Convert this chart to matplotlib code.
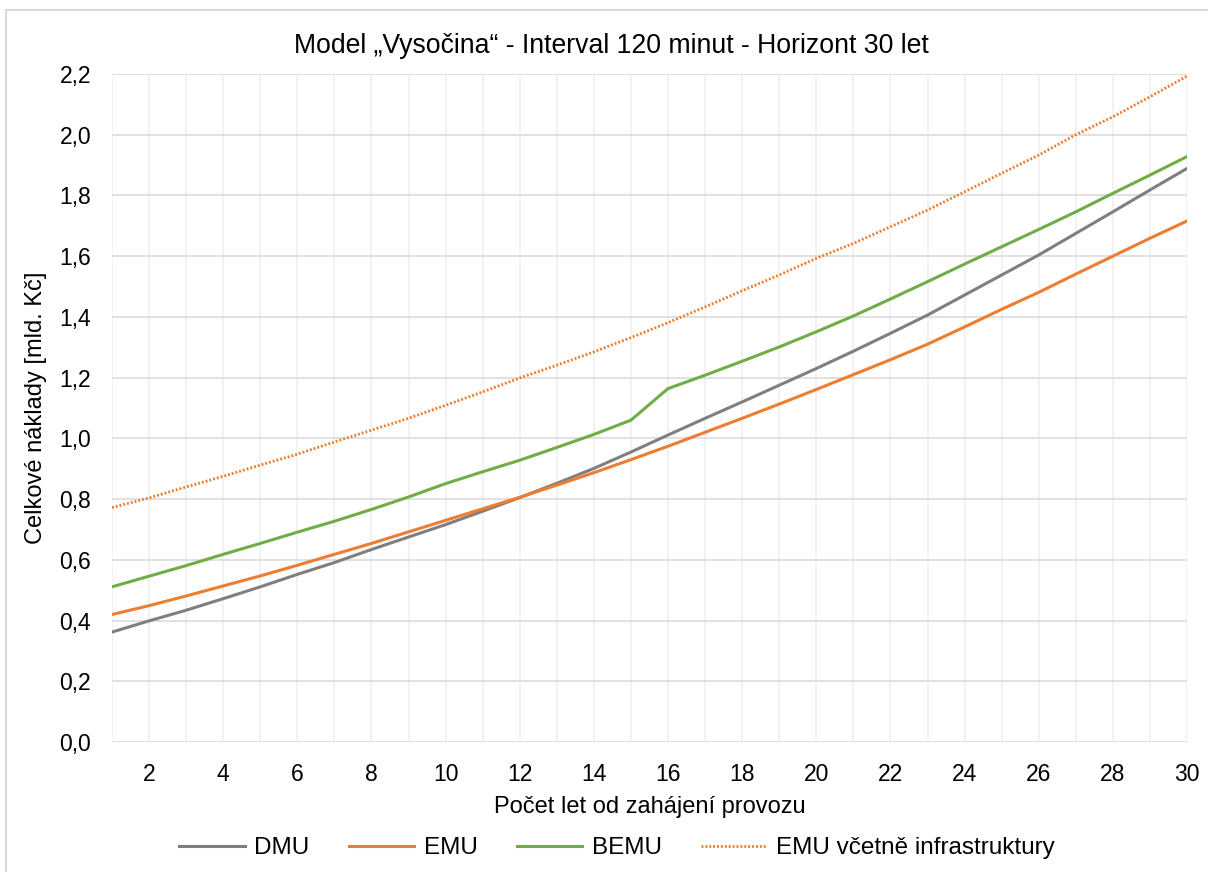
import matplotlib
matplotlib.use("Agg")
import matplotlib.pyplot as plt
from matplotlib.patches import Rectangle
from matplotlib.ticker import FuncFormatter

plt.rcParams["font.family"] = ["Liberation Sans", "DejaVu Sans"]

years = list(range(1, 31))
dmu = [0.362, 0.399, 0.434, 0.472, 0.511, 0.552, 0.591, 0.634, 0.675, 0.716,
       0.760, 0.805, 0.852, 0.901, 0.955, 1.011, 1.066, 1.120, 1.175, 1.230,
       1.287, 1.346, 1.406, 1.472, 1.538, 1.604, 1.675, 1.746, 1.818, 1.889]
emu = [0.420, 0.449, 0.481, 0.514, 0.547, 0.582, 0.618, 0.654, 0.692, 0.730,
       0.768, 0.806, 0.846, 0.887, 0.930, 0.974, 1.020, 1.066, 1.113, 1.161,
       1.210, 1.259, 1.310, 1.367, 1.425, 1.481, 1.541, 1.600, 1.659, 1.716]
bemu = [0.511, 0.546, 0.581, 0.618, 0.654, 0.691, 0.727, 0.766, 0.807, 0.851,
        0.890, 0.928, 0.970, 1.013, 1.060, 1.164, 1.208, 1.254, 1.301, 1.351,
        1.403, 1.459, 1.516, 1.574, 1.631, 1.688, 1.746, 1.807, 1.867, 1.928]
emu_infra = [0.772, 0.804, 0.840, 0.875, 0.912, 0.948, 0.988, 1.027, 1.066, 1.109,
             1.153, 1.199, 1.241, 1.285, 1.332, 1.381, 1.433, 1.486, 1.538, 1.593,
             1.642, 1.697, 1.752, 1.812, 1.873, 1.933, 2.000, 2.059, 2.125, 2.193]

W, H = 1208, 872
fig = plt.figure(figsize=(W / 100, H / 100), dpi=100)
ax = fig.add_axes([112 / W, 1 - 742 / H, (1187 - 112) / W, (742 - 74) / H])

# chart-area border (only left/top visible in the reference)
fig.patches.append(Rectangle((6 / W, -0.1), 2, 1 - 10 / H + 0.1, transform=fig.transFigure,
                             fill=False, edgecolor="#d9d9d9", linewidth=1.5))

lw = 2.2
ax.plot(years, dmu, color="#7f7f7f", lw=lw, label="DMU")
ax.plot(years, emu, color="#ed7d31", lw=lw, label="EMU")
ax.plot(years, bemu, color="#70ad47", lw=lw, label="BEMU")
ax.plot(years, emu_infra, color="#ed7d31", lw=2.0, linestyle=(0, (0.7, 0.7)),
        label="EMU včetně infrastruktury")

ax.set_xlim(1, 30)
ax.set_ylim(0, 2.2)
ax.set_yticks([i * 0.2 for i in range(12)])
ax.yaxis.set_major_formatter(FuncFormatter(lambda v, p: f"{v:.1f}".replace(".", ",")))
ax.set_xticks(years)
ax.set_xticklabels([str(y) if y % 2 == 0 else "" for y in years])

ax.grid(axis="y", color="#d9d9d9", linewidth=1.1)
ax.grid(axis="x", color="#efefef", linewidth=1.1)
ax.set_axisbelow(True)
for s in ax.spines.values():
    s.set_visible(False)
ax.tick_params(length=0, labelsize=16.5, pad=15)

fig.text(611 / W, 1 - 46 / H, "Model „Vysočina“ - Interval 120 minut - Horizont 30 let",
         fontsize=19.2, ha="center", va="center")
ax.set_xlabel("Počet let od zahájení provozu", fontsize=17, labelpad=7)
ax.set_ylabel("Celkové náklady [mld. Kč]", fontsize=17, labelpad=9)

ax.legend(loc="center", bbox_to_anchor=(617 / W, 1 - 848 / H), bbox_transform=fig.transFigure,
          ncol=4, frameon=False, fontsize=17.5, handlelength=2.7, columnspacing=1.6,
          handletextpad=0.4)

fig.savefig("out.png", dpi=100)
